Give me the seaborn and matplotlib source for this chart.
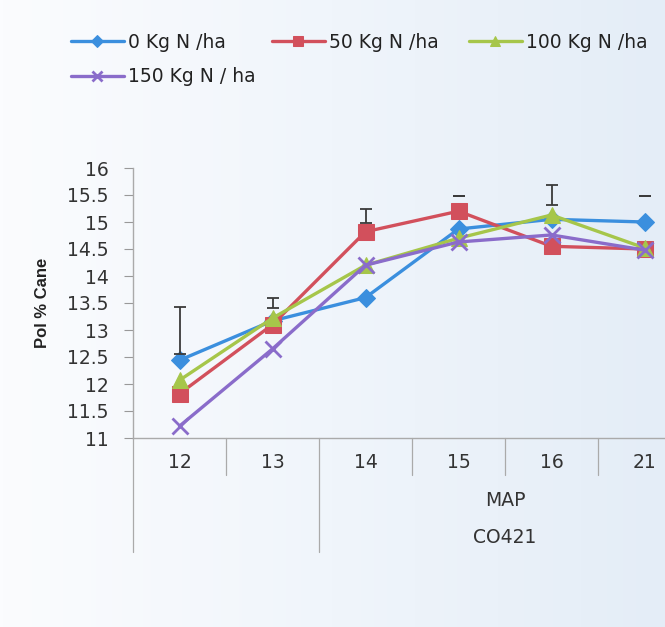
import matplotlib
matplotlib.use("Agg")
import matplotlib.pyplot as plt
from matplotlib.colors import LinearSegmentedColormap
import seaborn as sns
import pandas as pd
import numpy as np

# categories on the x axis
cats = ["12", "13", "14", "15", "16", "21"]
series_names = ["0 Kg N /ha", "50 Kg N /ha", "100 Kg N /ha", "150 Kg N / ha"]

# Pol % cane
n0 = [12.44, 13.17, 13.60, 14.87, 15.05, 15.00]
n50 = [11.82, 13.10, 14.82, 15.20, 14.55, 14.50]
n100 = [12.07, 13.22, 14.20, 14.70, 15.13, 14.52]
n150 = [11.22, 12.65, 14.20, 14.63, 14.76, 14.48]

# error bar extents (bottom cap, top cap)
err_lo = [12.55, 13.41, 14.98, 15.48, 15.31, 15.48]
err_hi = [13.43, 13.60, 15.24, 15.48, 15.69, 15.48]

group_labels = ["MAP", "CO421"]

colors = ["#3b8fde", "#d2505c", "#a6c64a", "#8a6cca"]
markers = ["D", "s", "^", "X"]

df = pd.DataFrame({
    "cat": cats * 4,
    "pol": n0 + n50 + n100 + n150,
    "rate": sum([[s] * len(cats) for s in series_names], []),
})

sns.set_style("white")
plt.rcParams["font.family"] = ["DejaVu Sans"]
fs = 13.5

fig = plt.figure(figsize=(6.65, 6.27), dpi=100)
# scanned page tint: whitish on the left, pale blue on the right
bg = LinearSegmentedColormap.from_list("bg", ["#fbfcfe", "#f0f5fb", "#e4edf7"])
grad = np.tile(np.linspace(0, 1, 665), (627, 1))
fig.figimage(grad, cmap=bg, zorder=-10)

ax = fig.add_axes([133 / 665, (627 - 438) / 627, 558 / 665, 270 / 627])
ax.set_facecolor("none")

sns.lineplot(data=df, x="cat", y="pol", hue="rate", style="rate",
             palette=colors, markers={s: m for s, m in zip(series_names, markers)},
             dashes=False, linewidth=2.4, markersize=10, legend=False, ax=ax)

handles = []
for line, c, m in zip(ax.lines[:4], colors, markers):
    line.set_markeredgecolor(c)
    line.set_markerfacecolor(c)
    if m == "D":
        line.set_markersize(9)
    if m == "s":
        line.set_markersize(11)
    if m == "^":
        line.set_markersize(11)
    if m == "X":
        line.set_marker("x")
        line.set_markersize(12)
        line.set_markeredgewidth(2)
    handles.append(line)

xs = np.arange(len(cats))
mid = (np.array(err_lo) + np.array(err_hi)) / 2
half = (np.array(err_hi) - np.array(err_lo)) / 2
ax.errorbar(xs, mid, yerr=half, fmt="none", ecolor="#3a3a3a", elinewidth=1.3,
            capsize=4, capthick=1.3, zorder=5)

ax.set_ylim(11, 16)
ax.set_xlim(-0.5, 5.5)
ax.set_yticks(np.arange(11, 16.01, 0.5))
ax.set_yticklabels([f"{v:g}" for v in np.arange(11, 16.01, 0.5)])
ax.tick_params(axis="y", length=6.5, width=0.8, color="#999999", direction="out",
               left=True, labelsize=fs, labelcolor="#333333", pad=11)
ax.tick_params(axis="x", length=0, labelsize=fs, labelcolor="#333333", pad=11)
ax.set_xlabel("")
ax.set_ylabel("Pol % Cane", fontsize=12, fontweight="bold", color="#222222",
              family="Liberation Sans")
ax.yaxis.set_label_coords(-0.148, 0.5)

sns.despine(ax=ax)
for sp in ["left", "bottom"]:
    ax.spines[sp].set_color("#aaaaaa")
    ax.spines[sp].set_linewidth(1.0)

# category separators and group lines below the axis
trans = ax.get_xaxis_transform()
for b in [0.5, 2.5, 3.5, 4.5]:
    ax.plot([b, b], [0, -0.137], color="#aaaaaa", lw=0.9, transform=trans, clip_on=False)
for b in [-0.5, 1.5]:
    ax.plot([b, b], [0, -0.422], color="#aaaaaa", lw=0.9, transform=trans, clip_on=False)
ax.text(3.5, -0.23, group_labels[0], transform=trans, ha="center", va="center",
        fontsize=fs, color="#333333")
ax.text(3.5, -0.367, group_labels[1], transform=trans, ha="center", va="center",
        fontsize=fs, color="#333333")

# legend entries laid out like the spreadsheet legend (two rows)
spots = [(71, 42), (272, 42), (469, 42), (71, 77)]
for h, name, (px, py) in zip(handles, series_names, spots):
    leg = fig.legend([h], [name], loc="center left",
                     bbox_to_anchor=(px / 665, 1 - py / 627), frameon=False,
                     fontsize=fs, handlelength=2.8, handletextpad=0.25,
                     markerscale=0.65, borderaxespad=0, borderpad=0,
                     labelcolor="#222222")

fig.savefig("out.png", dpi=100)
